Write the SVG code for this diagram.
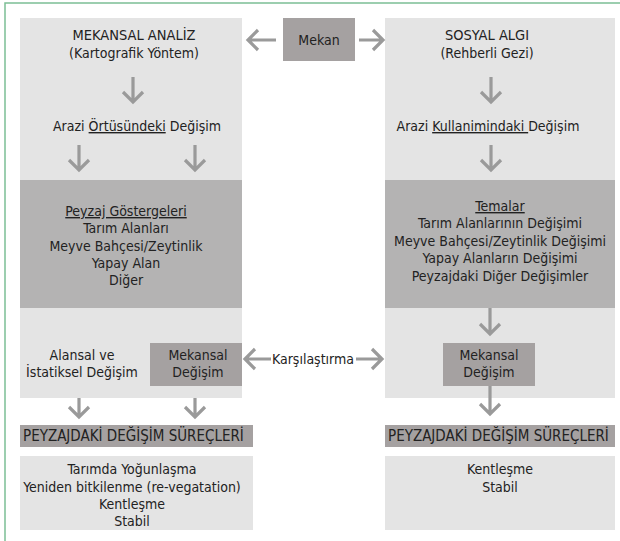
<svg xmlns="http://www.w3.org/2000/svg" width="620" height="541" viewBox="0 0 620 541">
<style>
text{font-family:"DejaVu Sans Condensed","DejaVu Sans",sans-serif;font-stretch:condensed;font-size:14px;fill:#222;text-anchor:middle}
.cap{font-size:14.5px}
.hdr{font-size:15px;text-anchor:start}
.panel{fill:#e4e4e4}
.band{fill:#b4b3b3}
.box{fill:#a5a1a1}
.arr{fill:none;stroke:#9a9a9a;stroke-width:3.2;stroke-linejoin:miter}
.u{text-decoration:underline}
</style>
<rect width="620" height="541" fill="#fff"/>
<path d="M5 541V3H620" fill="none" stroke="#7cbf95" stroke-width="1.5"/>

<g id="left-panel">
<rect class="panel" x="20" y="18" width="222" height="380"/>
<text class="cap" x="134" y="40">MEKANSAL ANALİZ</text>
<text x="134" y="58">(Kartografik Yöntem)</text>
<text x="137" y="131">Arazi <tspan class="u">Örtüsündeki</tspan> Değişim</text>
</g>
<g id="left-band">
<rect class="band" x="20" y="180" width="222" height="128"/>
<text x="126" y="216"><tspan class="u">Peyzaj Göstergeleri</tspan></text>
<text x="126" y="233">Tarım Alanları</text>
<text x="126" y="251">Meyve Bahçesi/Zeytinlik</text>
<text x="126" y="268">Yapay Alan</text>
<text x="126" y="285">Diğer</text>
</g>
<g id="left-alansal">
<text x="82" y="360">Alansal ve</text>
<text x="82" y="377">İstatiksel Değişim</text>
</g>
<g id="left-mekansal">
<rect class="box" x="150" y="343" width="92" height="43"/>
<text x="198" y="360">Mekansal</text>
<text x="198" y="377">Değişim</text>
</g>
<g id="mekan">
<rect class="box" x="283" y="18" width="72" height="43"/>
<text x="319" y="45">Mekan</text>
</g>
<g id="right-panel">
<rect class="panel" x="385" y="18" width="230" height="380"/>
<text class="cap" x="487" y="40">SOSYAL ALGI</text>
<text x="487" y="58">(Rehberli Gezi)</text>
<text x="488" y="131">Arazi <tspan class="u">Kullanimindaki </tspan>Değişim</text>
</g>
<g id="right-band">
<rect class="band" x="385" y="180" width="230" height="128"/>
<text x="500" y="211"><tspan class="u">Temalar</tspan></text>
<text x="500" y="228">Tarım Alanlarının Değişimi</text>
<text x="500" y="246">Meyve Bahçesi/Zeytinlik Değişimi</text>
<text x="500" y="263">Yapay Alanların Değişimi</text>
<text x="500" y="281">Peyzajdaki Diğer Değişimler</text>
</g>
<g id="right-mekansal">
<rect class="box" x="443" y="343" width="92" height="43"/>
<text x="489" y="360">Mekansal</text>
<text x="489" y="377">Değişim</text>
</g>
<g id="karsilastirma">
<text x="313" y="364">Karşılaştırma</text>
</g>
<g id="left-header">
<rect class="box" x="20" y="425" width="233" height="22"/>
<text class="hdr" x="23" y="441">PEYZAJDAKİ DEĞİŞİM SÜREÇLERİ</text>
</g>
<g id="right-header">
<rect class="box" x="385" y="425" width="230" height="22"/>
<text class="hdr" x="388" y="441">PEYZAJDAKİ DEĞİŞİM SÜREÇLERİ</text>
</g>
<g id="left-result">
<rect class="panel" x="20" y="456" width="233" height="74"/>
<text x="132" y="474">Tarımda Yoğunlaşma</text>
<text x="132" y="492">Yeniden bitkilenme (re-vegatation)</text>
<text x="132" y="509">Kentleşme</text>
<text x="132" y="526">Stabil</text>
</g>
<g id="right-result">
<rect class="panel" x="385" y="456" width="230" height="74"/>
<text x="500" y="474">Kentleşme</text>
<text x="500" y="492">Stabil</text>
</g>

<g id="connectors" class="arr">
<path d="M276 40H248M258 30L248 40L258 50"/>
<path d="M359 40H383M373 30L383 40L373 50"/>
<path d="M133 77V102M123 92L133 102L143 92"/>
<path d="M79 145V170M69 160L79 170L89 160"/>
<path d="M195 145V170M185 160L195 170L205 160"/>
<path d="M491 77V102M481 92L491 102L501 92"/>
<path d="M491 145V170M481 160L491 170L501 160"/>
<path d="M490 308V334M480 324L490 334L500 324"/>
<path d="M271 359H245M255 349L245 359L255 369"/>
<path d="M356 359H382M372 349L382 359L372 369"/>
<path d="M79 398V417M69 407L79 417L89 407"/>
<path d="M195 398V417M185 407L195 417L205 407"/>
<path d="M490 386V414M480 404L490 414L500 404"/>
</g>
</svg>
